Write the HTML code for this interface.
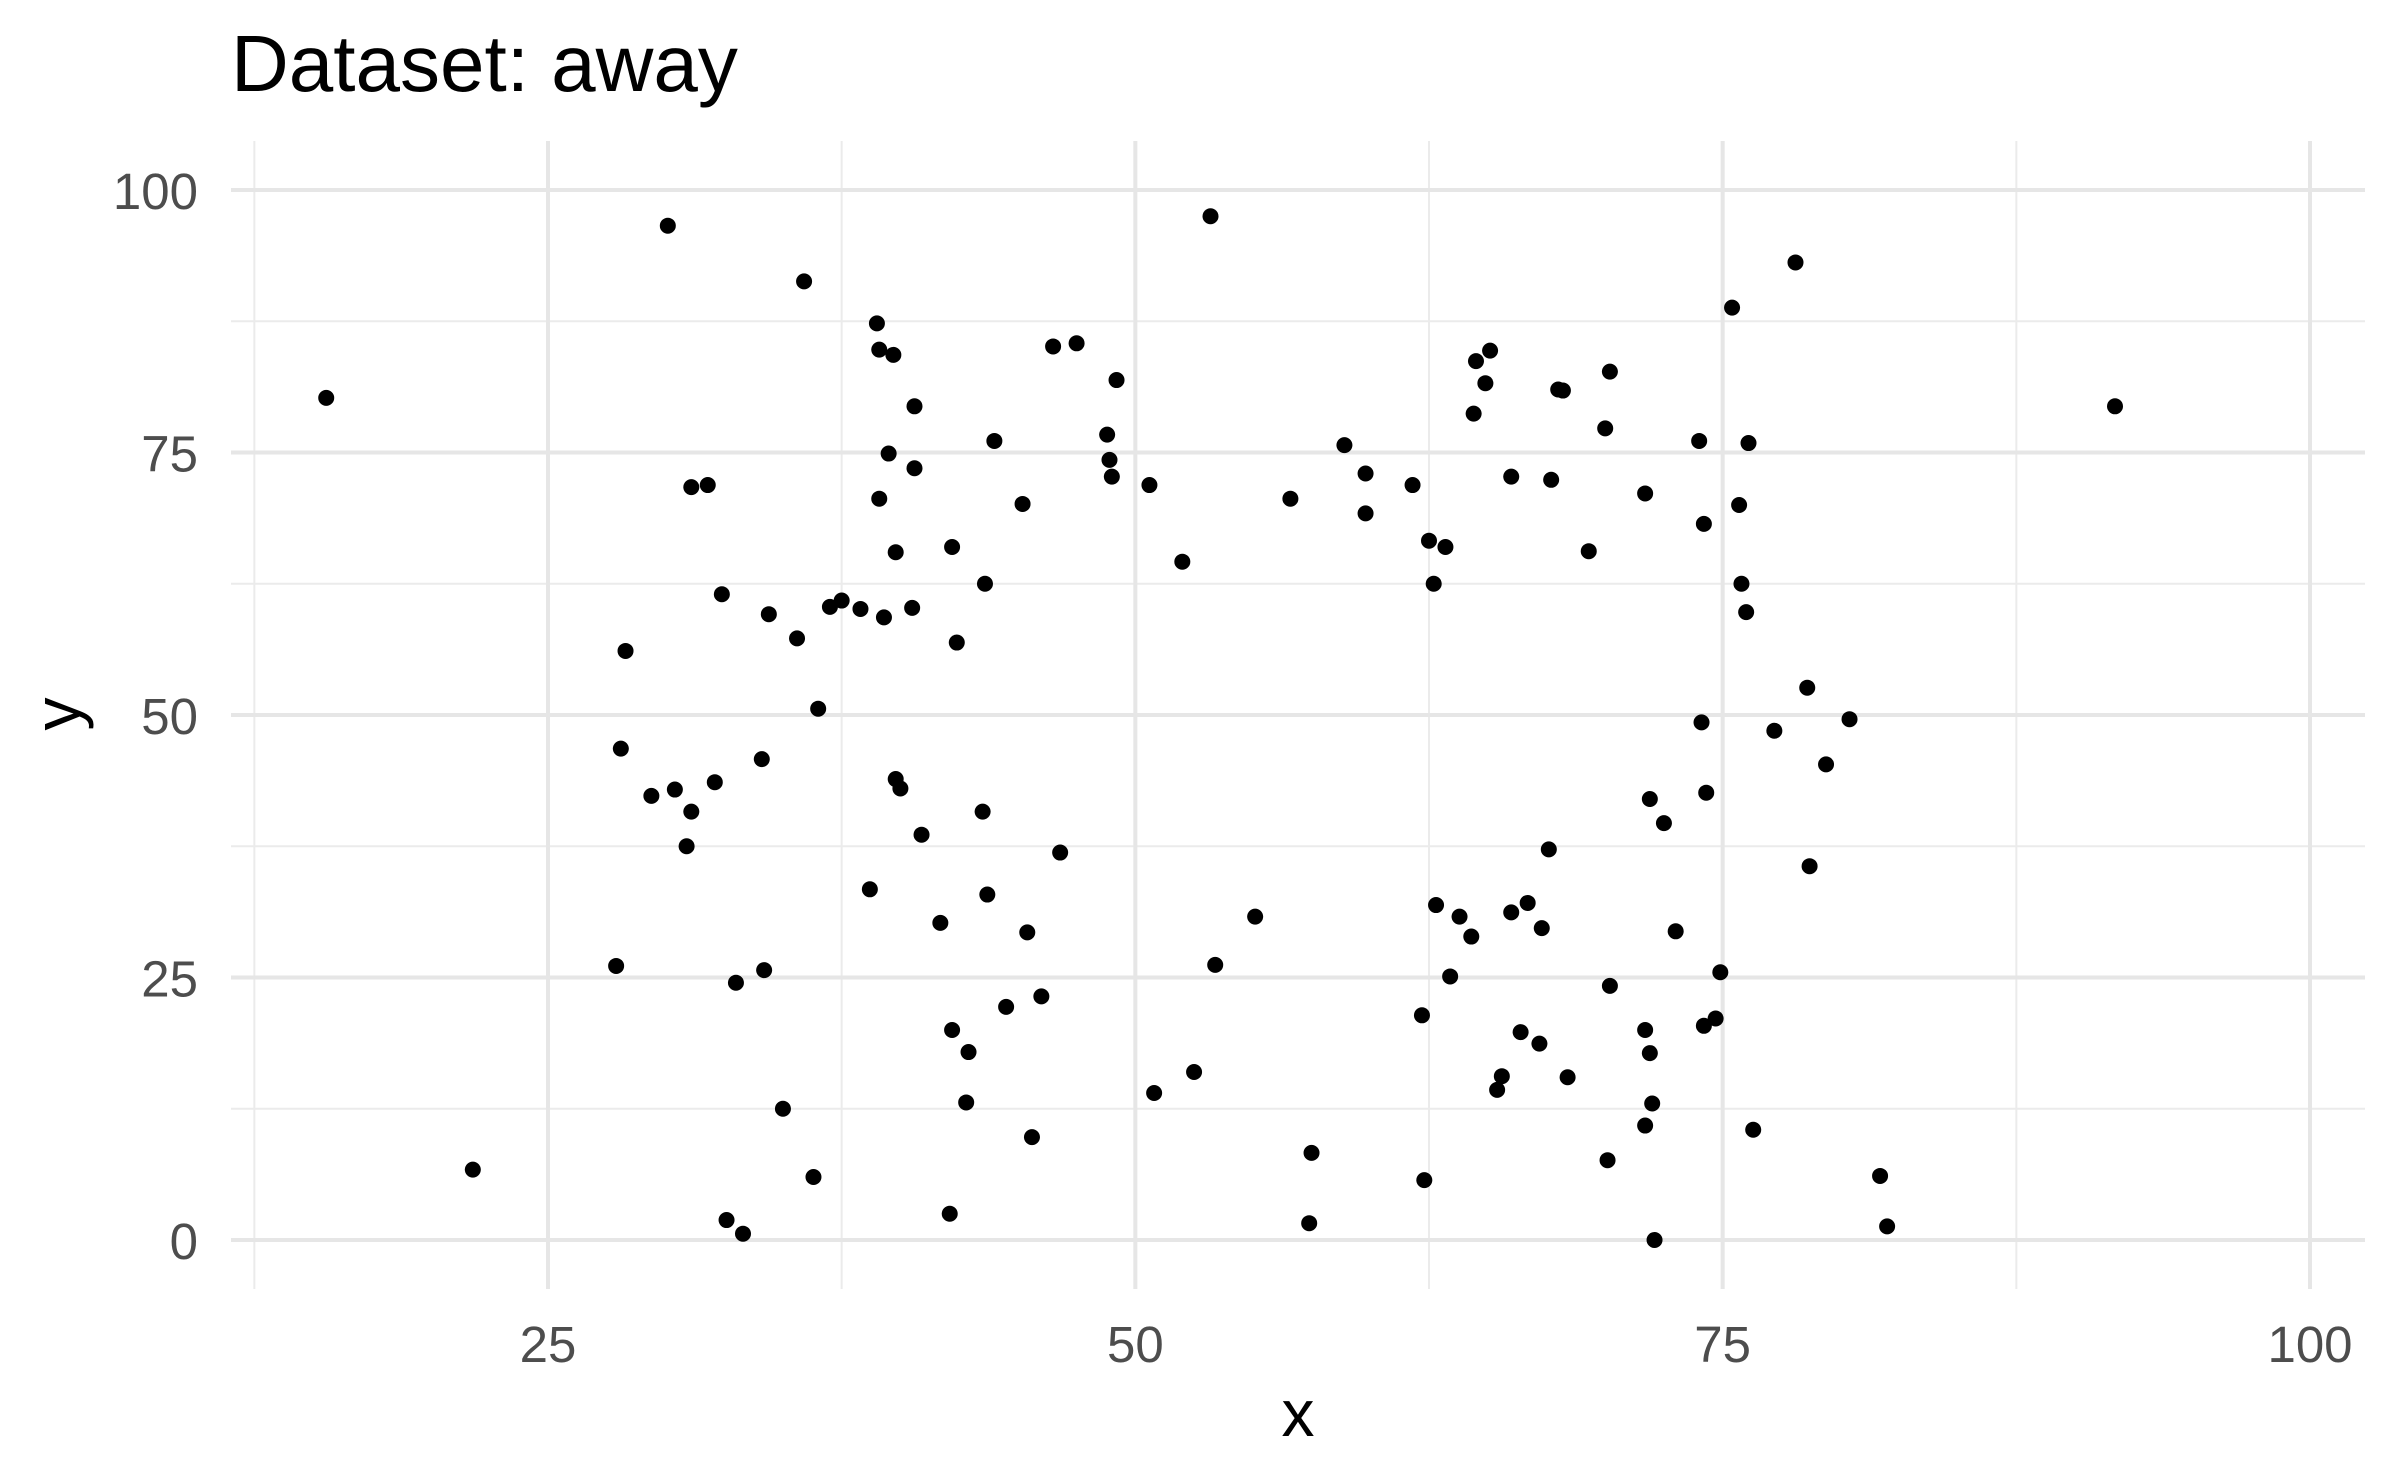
<!DOCTYPE html>
<html><head><meta charset="utf-8"><style>
html,body{margin:0;padding:0;background:#fff;}
svg{display:block;font-family:"Liberation Sans",Arial,sans-serif;}
</style></head><body>
<svg id="chart" width="2400" height="1483" viewBox="0 0 2400 1483" xmlns="http://www.w3.org/2000/svg">
<rect width="2400" height="1483" fill="#fff"/>
<text x="231" y="91" font-size="80" fill="#000">Dataset: away</text>
<g id="grid"></g>
<g id="xticks"></g>
<g id="yticks"></g>
<g id="points"></g>
<text x="1298" y="1436" font-size="66" text-anchor="middle" fill="#000">x</text>
<text x="0" y="0" font-size="66" text-anchor="middle" fill="#000" transform="translate(80,714) rotate(-90)">y</text>
</svg>
<script>
const xTicks=[25,50,75,100];
const yTicks=[0,25,50,75,100];
const xMinor=[12.5,37.5,62.5,87.5];
const yMinor=[12.5,37.5,62.5,87.5];
const xVals=[15.56,21.8,30.1,35.9,53.2,78.1,91.7,39.0,39.1,39.7,40.6,39.5,40.6,39.1,31.1,31.8,39.8,42.2,32.4,34.4,35.6,28.3,37.0,37.5,38.3,39.3,40.5,42.4,43.6,44.0,45.2,46.5,47.5,49.2,48.8,48.9,49.0,50.6,36.5,28.1,29.4,30.4,31.1,30.9,32.1,34.1,39.8,40.0,40.9,43.5,38.7,41.7,43.7,46.8,45.4,27.9,33.0,34.2,42.2,42.9,44.5,46.0,35.0,42.8,45.6,36.3,32.6,33.3,42.1,52.0,50.8,52.5,53.4,55.1,56.6,57.5,57.4,58.9,59.8,59.8,61.8,62.5,63.2,62.7,62.2,62.3,62.8,63.4,63.8,64.3,64.5,65.1,64.9,64.4,66.0,65.6,65.4,66.0,66.4,66.7,67.3,67.2,67.6,67.7,68.0,68.2,68.4,69.3,70.0,70.2,70.2,70.1,71.7,71.9,71.7,71.9,72.0,71.7,72.1,72.5,73.0,74.0,74.2,74.1,74.3,74.2,74.7,74.9,75.4,75.7,76.1,75.8,76.0,76.3,77.2,78.6,78.7,79.4,80.4,81.7,82.0];
const yVals=[80.2,6.7,96.6,91.3,97.5,93.1,79.4,87.3,84.8,84.3,79.4,74.9,73.5,70.6,71.7,71.9,65.5,66.0,61.5,59.6,57.3,56.1,60.3,60.9,60.1,59.3,60.2,56.9,62.5,76.1,70.1,85.1,85.4,81.9,76.7,74.3,72.7,71.9,50.6,46.8,42.3,42.9,40.8,37.5,43.6,45.8,43.9,43.0,38.6,40.8,33.4,30.2,32.9,36.9,29.3,26.1,24.5,25.7,20.0,17.9,22.2,23.2,12.5,13.1,9.8,6.0,1.9,0.6,2.5,64.6,14.0,16.0,26.2,30.8,70.6,8.3,1.6,75.7,73.0,69.2,71.9,66.6,66.0,62.5,21.4,5.7,31.9,25.1,30.8,28.9,83.7,84.7,81.6,78.7,72.7,15.6,14.3,31.2,19.8,32.1,29.7,18.7,37.2,72.4,81.0,80.9,15.5,65.6,77.3,82.7,24.2,7.6,71.1,42.0,20.0,17.8,13.0,10.9,0.0,39.7,29.4,76.1,68.2,49.3,42.6,20.4,21.1,25.5,88.8,70.0,75.9,62.5,59.8,10.5,48.5,52.6,35.6,45.3,49.6,6.1,1.3];
const NS="http://www.w3.org/2000/svg";
const L=231,R=2365,T=141,B=1289;
const sx=x=>548+(x-25)*(2310-548)/75;
const sy=y=>1240-y*(1240-190)/100;
function mk(tag,attrs,parent){const e=document.createElementNS(NS,tag);for(const k in attrs)e.setAttribute(k,attrs[k]);parent.appendChild(e);return e;}
const grid=document.getElementById('grid');
xMinor.forEach(v=>{const l=mk('line',{x1:sx(v),x2:sx(v),y1:T,y2:B,stroke:'#ebebeb','stroke-width':2},grid);

});
yMinor.forEach(v=>{const l=mk('line',{x1:L,x2:R,y1:sy(v),y2:sy(v),stroke:'#ebebeb','stroke-width':2},grid);

});
const xt=document.getElementById('xticks'),yt=document.getElementById('yticks');
xTicks.forEach(v=>{const l=mk('line',{x1:sx(v),x2:sx(v),y1:T,y2:B,stroke:'#e6e6e6','stroke-width':4},grid);


const t=mk('text',{x:sx(v),y:1362,'font-size':51,'text-anchor':'middle',fill:'#4d4d4d'},xt);t.textContent=v;

});
yTicks.forEach(v=>{const l=mk('line',{x1:L,x2:R,y1:sy(v),y2:sy(v),stroke:'#e6e6e6','stroke-width':4},grid);


const t=mk('text',{x:198,y:sy(v)+19,'font-size':51,'text-anchor':'end',fill:'#4d4d4d'},yt);t.textContent=v;

});
const pts=document.getElementById('points');
xVals.forEach((x,i)=>{const c=mk('circle',{cx:sx(x),cy:sy(yVals[i]),r:8,fill:'#000'},pts);

});
</script>
</body></html>
